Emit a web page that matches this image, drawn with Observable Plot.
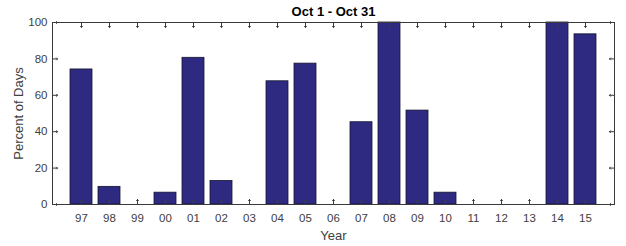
<!DOCTYPE html>
<html><head><meta charset="utf-8">
<script src="https://cdn.jsdelivr.net/npm/d3@7"></script>
<script src="https://cdn.jsdelivr.net/npm/@observablehq/plot@0.6"></script>
<style>html,body{margin:0;padding:0;background:#fff}</style>
</head><body><div id="chart"></div>
<script>
const years = ["97","98","99","00","01","02","03","04","05","06","07","08","09","10","11","12","13","14","15"];
const percent = [74.2, 9.7, 0, 6.5, 80.6, 12.9, 0, 67.7, 77.4, 0, 45.2, 100, 51.6, 6.5, 0, 0, 0, 100, 93.5];
const yTicks = [0, 20, 40, 60, 80, 100];
const titleText = "Oct 1 - Oct 31";
const xLabel = "Year";
const yLabel = "Percent of Days";

const data = years.map((year, i) => ({year, value: percent[i]}));
const axisColor = "#3a3a3a";
const tickOpts = {length: 5, anchor: "start", stroke: axisColor, strokeWidth: 1};

const chart = Plot.plot({
  width: 626, height: 246,
  marginLeft: 52, marginRight: 12, marginTop: 22, marginBottom: 42,
  style: {fontFamily: "'Liberation Sans', Arial, sans-serif", fontSize: "11.5px", color: "#404040", background: "#fff"},
  x: {domain: years, paddingInner: 0.2, paddingOuter: 0.6, label: null},
  y: {domain: [0, 100], label: null},
  marks: [
    Plot.barY(data, {x: "year", y: "value", fill: "#2e2a82", stroke: "#14142e", strokeWidth: 0.8}),
    Plot.frame({stroke: axisColor}),
    Plot.axisX({anchor: "bottom", tickSize: 0, tickPadding: 9, label: null}),
    Plot.axisY({anchor: "left", ticks: yTicks, tickSize: 0, tickPadding: 5, label: null}),
    Plot.vector(years, {x: d => d, frameAnchor: "bottom", rotate: 0, ...tickOpts}),
    Plot.vector(years, {x: d => d, frameAnchor: "top", rotate: 180, ...tickOpts}),
    Plot.vector(yTicks, {y: d => d, frameAnchor: "left", rotate: 90, ...tickOpts}),
    Plot.vector(yTicks, {y: d => d, frameAnchor: "right", rotate: -90, ...tickOpts}),
    Plot.text([titleText], {frameAnchor: "top", textAnchor: "middle", lineAnchor: "middle", dy: -11, fontWeight: "bold", fontSize: 13, fill: "#000"}),
    Plot.text([xLabel], {frameAnchor: "bottom", textAnchor: "middle", lineAnchor: "middle", dy: 31, fontSize: 13, fill: "#404040"}),
    Plot.text([yLabel], {frameAnchor: "left", textAnchor: "middle", lineAnchor: "middle", rotate: -90, dx: -34, fontSize: 13, fill: "#404040"})
  ]
});
document.getElementById("chart").append(chart);
</script>
</body></html>
